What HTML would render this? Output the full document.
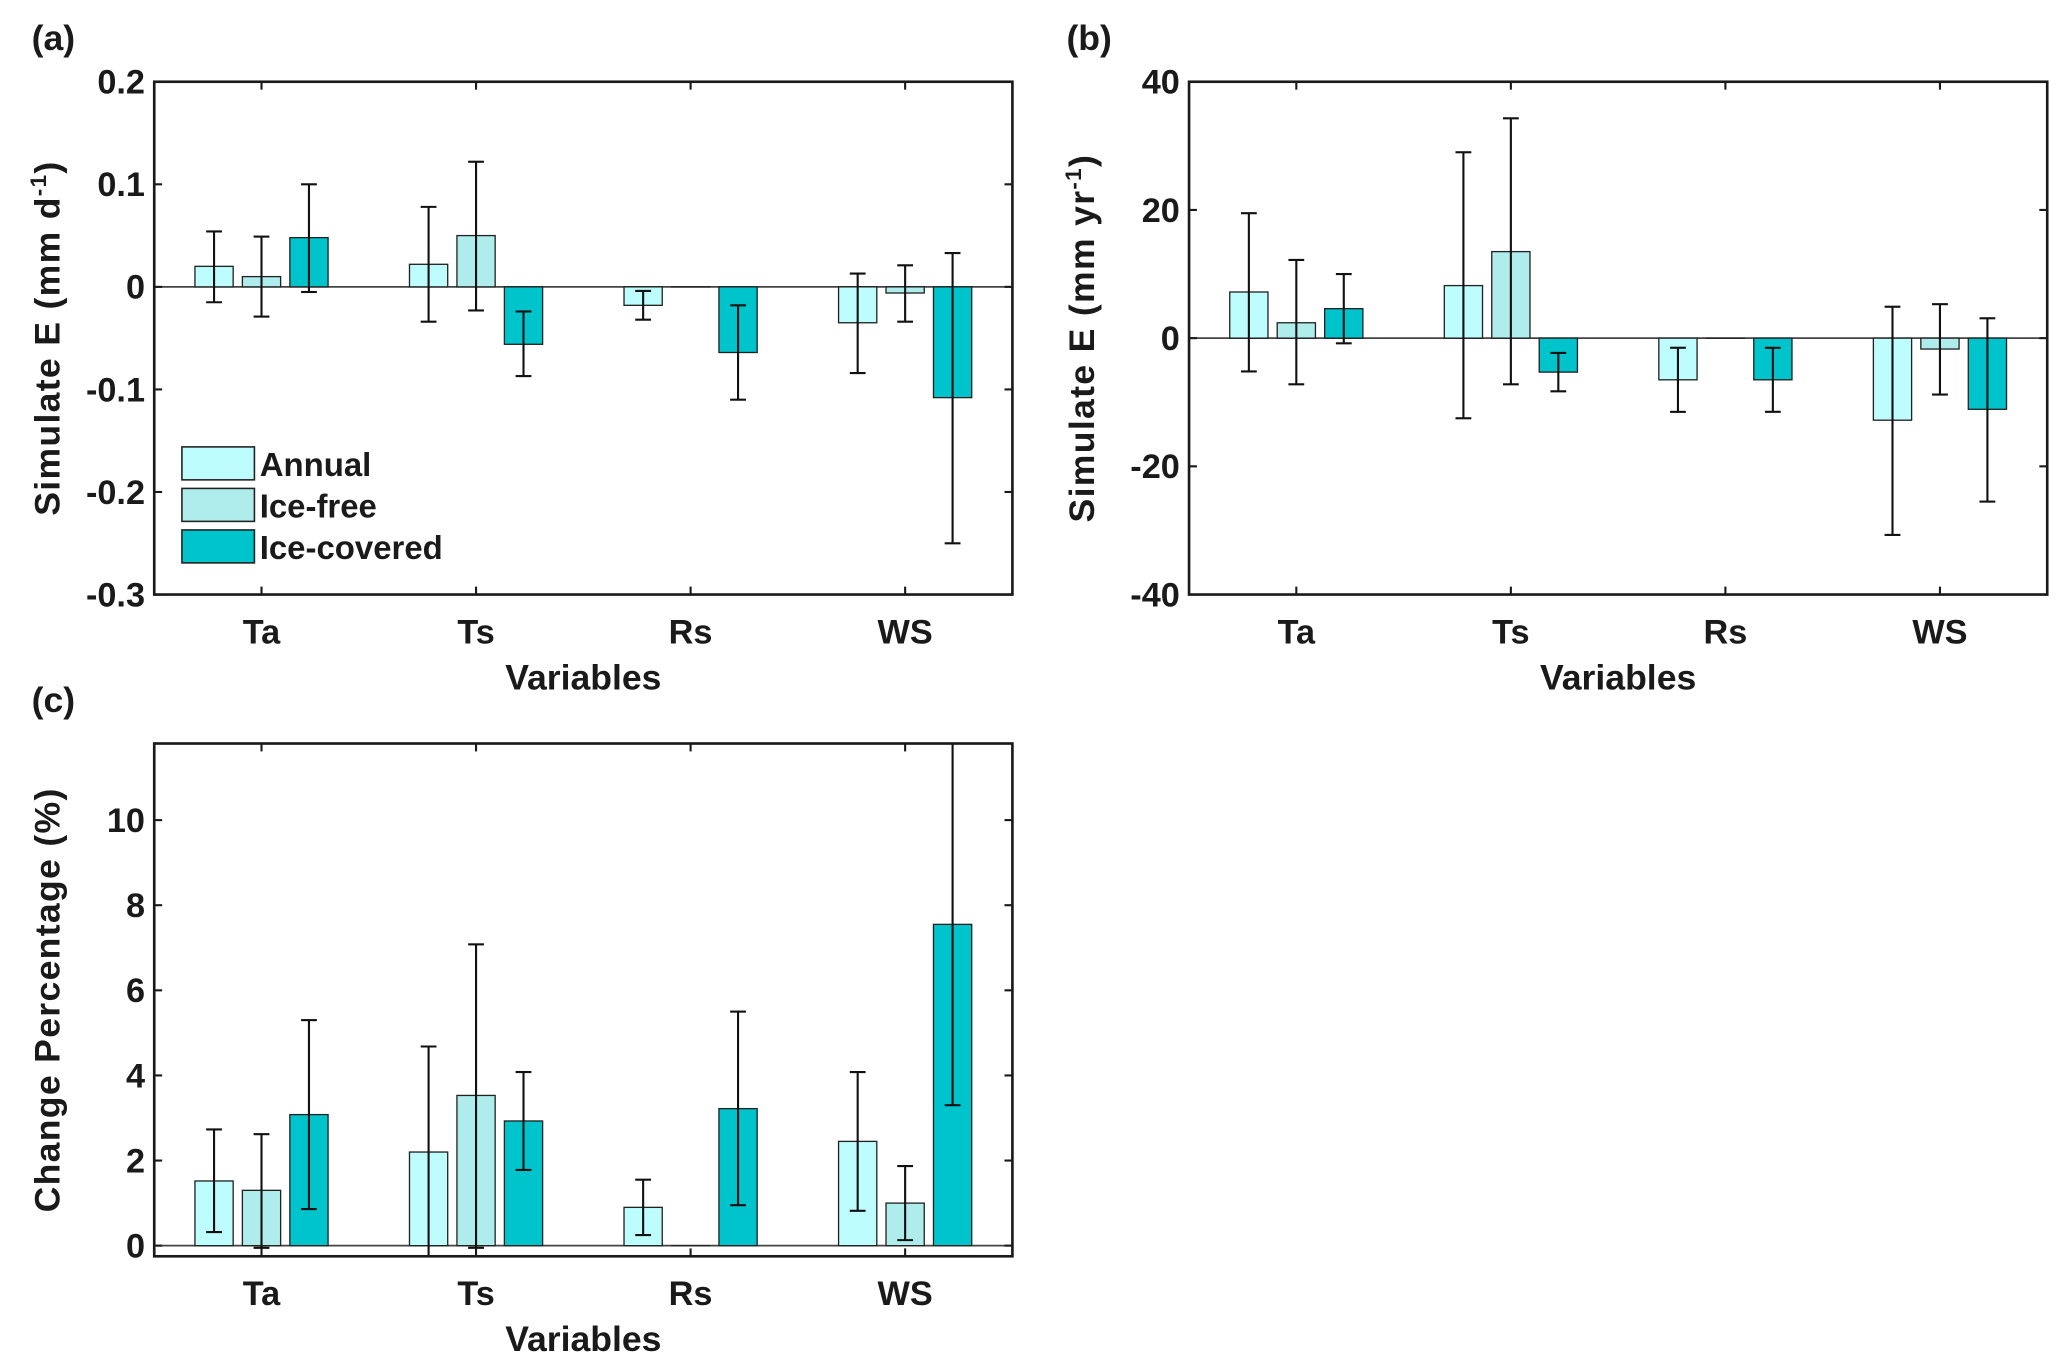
<!DOCTYPE html>
<html><head><meta charset="utf-8"><style>
html,body{margin:0;padding:0;background:#fff}
svg{display:block}
text{font-family:"Liberation Sans",Arial,sans-serif;font-weight:bold;fill:#1a1a1a}
</style></head><body>
<svg id="fig" width="2067" height="1371" viewBox="0 0 1568 1040" xmlns="http://www.w3.org/2000/svg"></svg>
<script>
const categories = ["Ta","Ts","Rs","WS"];
const seriesNames = ["Annual","Ice-free","Ice-covered"];
const seriesColors = ["#bdfdfd","#afeded","#00c4cb"];
// Panel a (mm d-1)
const aAnnual = [0.020, 0.022, -0.018, -0.035];
const aAnnualLo = [-0.015, -0.034, -0.032, -0.084];
const aAnnualHi = [0.054, 0.078, -0.004, 0.013];
const aFree = [0.010, 0.050, 0.0, -0.006];
const aFreeLo = [-0.029, -0.023, 0.0, -0.034];
const aFreeHi = [0.049, 0.122, 0.0, 0.021];
const aCov = [0.048, -0.056, -0.064, -0.108];
const aCovLo = [-0.005, -0.087, -0.110, -0.250];
const aCovHi = [0.100, -0.024, -0.018, 0.033];
const aTicks = [-0.3,-0.2,-0.1,0,0.1,0.2];
const aTickLabels = ["-0.3","-0.2","-0.1","0","0.1","0.2"];
// Panel b (mm yr-1)
const bAnnual = [7.2, 8.2, -6.5, -12.8];
const bAnnualLo = [-5.2, -12.5, -11.5, -30.7];
const bAnnualHi = [19.5, 29.0, -1.5, 4.9];
const bFree = [2.4, 13.5, 0.0, -1.7];
const bFreeLo = [-7.2, -7.2, 0.0, -8.8];
const bFreeHi = [12.2, 34.3, 0.0, 5.3];
const bCov = [4.6, -5.3, -6.5, -11.1];
const bCovLo = [-0.8, -8.3, -11.5, -25.5];
const bCovHi = [10.0, -2.3, -1.5, 3.1];
const bTicks = [-40,-20,0,20,40];
const bTickLabels = ["-40","-20","0","20","40"];
// Panel c (%)
const cAnnual = [1.52, 2.20, 0.90, 2.45];
const cAnnualLo = [0.32, -0.30, 0.25, 0.82];
const cAnnualHi = [2.73, 4.68, 1.55, 4.08];
const cFree = [1.30, 3.53, 0.0, 1.00];
const cFreeLo = [-0.05, -0.05, 0.0, 0.13];
const cFreeHi = [2.62, 7.08, 0.0, 1.87];
const cCov = [3.08, 2.93, 3.22, 7.55];
const cCovLo = [0.86, 1.78, 0.95, 3.30];
const cCovHi = [5.30, 4.08, 5.50, 12.5];
const cTicks = [0,2,4,6,8,10];
const cTickLabels = ["0","2","4","6","8","10"];

const svg = document.getElementById('fig');
const NS = 'http://www.w3.org/2000/svg';
function mk(tag, attrs, parent){
  const e = document.createElementNS(NS, tag);
  for (const k in attrs) e.setAttribute(k, attrs[k]);
  (parent||svg).appendChild(e);
  return e;
}

function panel(id, box, ymin, ymax, ticks, tickLabels, vals, los, his, ylabel, letter, legend){
  const g = mk('g', {});
  
  
  const x0 = box[0], x1 = box[1], y0 = box[2], y1 = box[3];
  const xs = i => x0 + (x1 - x0) * (i + 0.5) / 4;
  const ys = v => y1 - (v - ymin) / (ymax - ymin) * (y1 - y0);
  const clip = mk('clipPath', {id: 'clip-' + id}, g);
  mk('rect', {x: x0, y: y0, width: x1 - x0, height: y1 - y0}, clip);
  const plot = mk('g', {'clip-path': 'url(#clip-' + id + ')'}, g);
  const bw = 29, off = [-36, 0, 36];
  const zl = mk('line', {x1: x0, x2: x1, y1: ys(0), y2: ys(0), stroke: '#444', 'stroke-width': 1.3}, plot);
  
  
  for (let s = 0; s < 3; s++){
    for (let i = 0; i < categories.length; i++){
      const cx = xs(i) + off[s];
      const v = vals[s][i];
      const top = Math.min(ys(v), ys(0)), h = Math.abs(ys(v) - ys(0));
      const r = mk('rect', {x: cx - bw/2, y: top, width: bw, height: Math.max(h, 0.01), fill: seriesColors[s], stroke: '#222', 'stroke-width': 1}, plot);
      
      
      if (los[s][i] !== his[s][i]){
        const eg = mk('g', {stroke: '#111', 'stroke-width': 1.6}, plot);
        
        
        mk('line', {x1: cx, x2: cx, y1: ys(los[s][i]), y2: ys(his[s][i])}, eg);
        mk('line', {x1: cx - 6, x2: cx + 6, y1: ys(los[s][i]), y2: ys(los[s][i])}, eg);
        mk('line', {x1: cx - 6, x2: cx + 6, y1: ys(his[s][i]), y2: ys(his[s][i])}, eg);
      }
    }
  }
  const fr = mk('rect', {x: x0, y: y0, width: x1 - x0, height: y1 - y0, fill: 'none', stroke: '#1a1a1a', 'stroke-width': 2}, g);
  
  
  ticks.forEach((t, k) => {
    const y = ys(t);
    mk('line', {x1: x0, x2: x0 + 6, y1: y, y2: y, stroke: '#1a1a1a', 'stroke-width': 1.6}, g);
    mk('line', {x1: x1, x2: x1 - 6, y1: y, y2: y, stroke: '#1a1a1a', 'stroke-width': 1.6}, g);
    const tl = mk('text', {x: x0 - 7, y: y + 9, 'text-anchor': 'end', 'font-size': 26, transform: 'scale(1,1)'}, g);
    tl.textContent = tickLabels[k];
    
    
  });
  categories.forEach((c, i) => {
    const x = xs(i);
    mk('line', {x1: x, x2: x, y1: y1, y2: y1 - 6, stroke: '#1a1a1a', 'stroke-width': 1.6}, g);
    mk('line', {x1: x, x2: x, y1: y0, y2: y0 + 6, stroke: '#1a1a1a', 'stroke-width': 1.6}, g);
    const tl = mk('text', {x: x, y: y1 + 37, 'text-anchor': 'middle', 'font-size': 26}, g);
    tl.textContent = c;
    
    
  });
  const xl = mk('text', {x: (x0 + x1) / 2, y: y1 + 72, 'text-anchor': 'middle', 'font-size': 27}, g);
  xl.textContent = 'Variables';
  
  
  const ycx = x0 - 72, ycy = (y0 + y1) / 2;
  const yl = mk('text', {x: ycx, y: ycy, 'text-anchor': 'middle', 'font-size': 27, 'letter-spacing': 1, transform: 'rotate(-90 ' + ycx + ' ' + ycy + ')'}, g);
  yl.innerHTML = ylabel;
  
  
  const pl = mk('text', {x: x0 - 93, y: y0 - 24, 'font-size': 27}, g);
  pl.textContent = letter;
  
  
  if (legend){
    const lg = mk('g', {}, g);
    
    
    seriesNames.forEach((n, s) => {
      const ly = 339 + s * 31.5;
      const sw = mk('rect', {x: 138, y: ly, width: 55, height: 25, fill: seriesColors[s], stroke: '#222', 'stroke-width': 1.2}, lg);
      
      
      const lt = mk('text', {x: 197, y: ly + 22, 'font-size': 25}, lg);
      lt.textContent = n;
      
      
    });
  }
}

panel('a', [117, 768, 62, 451], -0.3, 0.2, aTicks, aTickLabels,
  [aAnnual, aFree, aCov], [aAnnualLo, aFreeLo, aCovLo], [aAnnualHi, aFreeHi, aCovHi],
  'Simulate E (mm d<tspan dy="-10" font-size="17">-1</tspan><tspan dy="10">)</tspan>', '(a)', true);
panel('b', [902, 1553, 62, 451], -40, 40, bTicks, bTickLabels,
  [bAnnual, bFree, bCov], [bAnnualLo, bFreeLo, bCovLo], [bAnnualHi, bFreeHi, bCovHi],
  'Simulate E (mm yr<tspan dy="-10" font-size="17">-1</tspan><tspan dy="10">)</tspan>', '(b)', false);
panel('c', [117, 768, 564, 953], -0.25, 11.8, cTicks, cTickLabels,
  [cAnnual, cFree, cCov], [cAnnualLo, cFreeLo, cCovLo], [cAnnualHi, cFreeHi, cCovHi],
  'Change Percentage (%)', '(c)', false);
</script>
</body></html>
